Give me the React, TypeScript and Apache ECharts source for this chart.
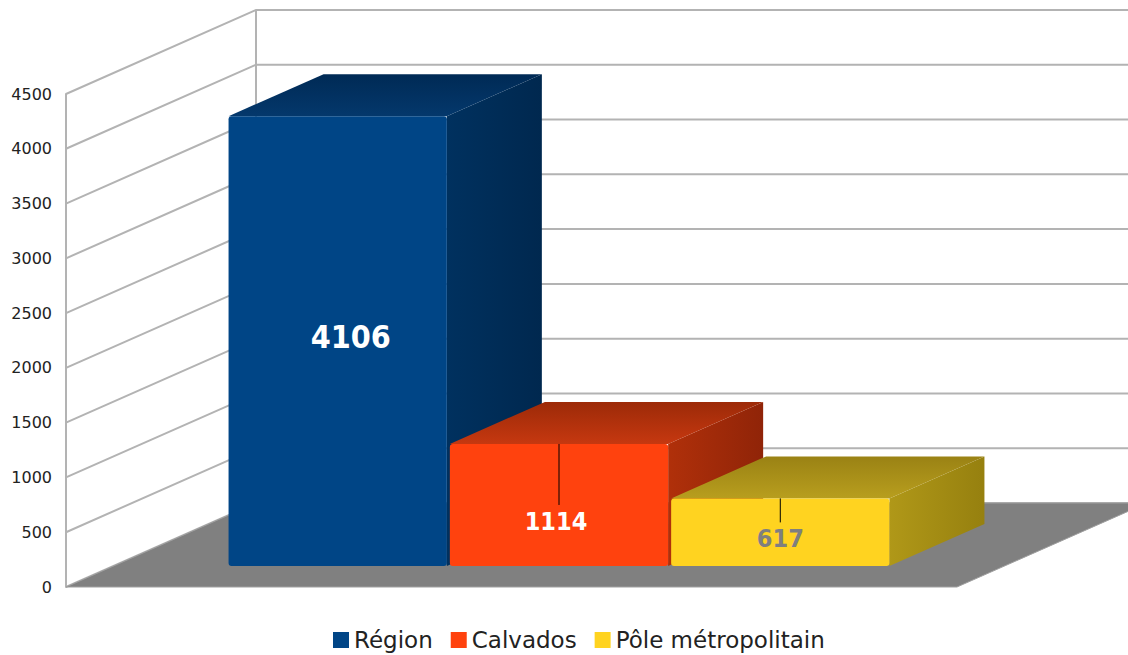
import React, { useEffect, useRef } from "react";
import * as echarts from "echarts";

// ---- data ----
const CATEGORIES = [""];
const SERIES_NAMES = ["Région", "Calvados", "Pôle métropolitain"];
const SERIES_VALUES = [4106, 1114, 617];
const Y_TICKS = [0, 500, 1000, 1500, 2000, 2500, 3000, 3500, 4000, 4500];

// ---- styles ----
const FRONT = ["#004586", "#ff420e", "#ffd320"];
const TOP = [
  ["#002a55", "#04386c"],
  ["#9c2a08", "#c63810"],
  ["#9a8214", "#b89e1e"],
];
const SIDE = [
  ["#00315f", "#00284f"],
  ["#b0300a", "#902408"],
  ["#b09818", "#96800f"],
];
const LABELS = [
  { dx: 13, dy: null as number | null, line: 0, size: 32, color: "#ffffff" },
  { dx: -3, dy: 78, line: 61, size: 25, color: "#ffffff" },
  { dx: 0, dy: 40, line: 24, size: 25, color: "#7f7f7f" },
];
const FDX = 190;
const FDY = -84;
const GRID_COLOR = "#b3b3b3";

export default function App() {
  const ref = useRef<HTMLDivElement>(null);
  useEffect(() => {
    document.body.style.margin = "0";
    const chart = echarts.init(ref.current!, undefined, { renderer: "svg" });

    const frameSeries = {
      type: "custom",
      name: "frame",
      clip: false,
      z: 1,
      silent: true,
      data: Y_TICKS.map((v) => [0, v]),
      renderItem: (params: any, api: any) => {
        const v = api.value(1);
        const [cx, y] = api.coord([0, v]);
        const bw = api.size([1, 0])[0];
        const left = cx - bw / 2;
        const children: any[] = [
          {
            type: "polyline",
            shape: {
              points: [
                [left, y],
                [left + FDX, y + FDY],
                [1300, y + FDY],
              ],
            },
            style: { stroke: GRID_COLOR, lineWidth: 2, fill: "none" },
          },
        ];
        if (params.dataIndex === 0) {
          const yTop = api.coord([0, Y_TICKS[Y_TICKS.length - 1]])[1];
          children.push({
            type: "line",
            shape: { x1: left + FDX, y1: y + FDY, x2: left + FDX, y2: yTop + FDY },
            style: { stroke: GRID_COLOR, lineWidth: 2 },
          });
        }
        return { type: "group", children };
      },
    };

    const floorSeries = {
      type: "custom",
      name: "floor",
      clip: false,
      z: 2,
      silent: true,
      data: [[0, 0]],
      renderItem: (params: any, api: any) => {
        const [cx, y] = api.coord([0, 0]);
        const bw = api.size([1, 0])[0];
        const left = cx - bw / 2;
        return {
          type: "polygon",
          shape: {
            points: [
              [left, y],
              [left + bw, y],
              [left + bw + FDX, y + FDY],
              [left + FDX, y + FDY],
            ],
          },
          style: { fill: "#808080", stroke: "#a0a0a0", lineWidth: 1 },
        };
      },
    };

    const barSeries = SERIES_NAMES.map((name, i) => ({
      type: "custom",
      name,
      clip: false,
      z: 3 + i,
      itemStyle: { color: FRONT[i] },
      data: [[0, SERIES_VALUES[i]]],
      renderItem: (params: any, api: any) => {
        const v = api.value(1);
        const [cx, yBase] = api.coord([0, 0]);
        const yVal = api.coord([0, v])[1];
        const bw = api.size([1, 0])[0];
        const barW = bw * 0.245;
        const gap = 3;
        const bdx = FDX * 0.5;
        const bdy = FDY * 0.5;
        const x0 = cx + FDX * 0.25 + (i - 1) * (barW + gap) - barW / 2;
        const yb = yBase + FDY * 0.25;
        const yt = yVal + FDY * 0.25;
        const lab = LABELS[i];
        const lx = x0 + barW / 2 + lab.dx;
        const ly = lab.dy === null ? (yt + yb) / 2 - 4 : yt + lab.dy;
        const children: any[] = [
          {
            type: "polygon",
            shape: {
              points: [
                [x0 + barW, yt],
                [x0 + barW + bdx, yt + bdy],
                [x0 + barW + bdx, yb + bdy],
                [x0 + barW, yb],
              ],
            },
            style: {
              fill: new echarts.graphic.LinearGradient(0, 0, 1, 0, [
                { offset: 0, color: SIDE[i][0] },
                { offset: 1, color: SIDE[i][1] },
              ]),
            },
          },
          {
            type: "polygon",
            shape: {
              points: [
                [x0, yt],
                [x0 + barW, yt],
                [x0 + barW + bdx, yt + bdy],
                [x0 + bdx, yt + bdy],
              ],
            },
            style: {
              fill: new echarts.graphic.LinearGradient(0, 0, 0, 1, [
                { offset: 0, color: TOP[i][0] },
                { offset: 1, color: TOP[i][1] },
              ]),
            },
          },
          {
            type: "rect",
            shape: { x: x0, y: yt, width: barW, height: yb - yt, r: 3 },
            style: { fill: FRONT[i] },
          },
        ];
        if (lab.line > 0) {
          children.push({
            type: "line",
            shape: { x1: x0 + barW / 2, y1: yt, x2: x0 + barW / 2, y2: yt + lab.line },
            style: { stroke: "#000000", lineWidth: 1 },
          });
        }
        children.push({
          type: "text",
          x: lx,
          y: ly,
          style: {
            text: String(v),
            fill: lab.color,
            font: `bold ${lab.size}px "DejaVu Sans Condensed", "DejaVu Sans", sans-serif`,
            align: "center",
            verticalAlign: "middle",
          },
        });
        return { type: "group", children };
      },
    }));

    chart.setOption({
      animation: false,
      backgroundColor: "#ffffff",
      grid: { left: 66, right: 171, top: 94, bottom: 68 },
      legend: {
        data: SERIES_NAMES,
        left: 333,
        top: 628,
        icon: "rect",
        itemWidth: 16,
        itemHeight: 16,
        itemGap: 18,
        padding: 0,
        textStyle: { fontSize: 23, fontFamily: "DejaVu Sans", color: "#222222", lineHeight: 24 },
        selectedMode: false,
      },
      xAxis: {
        type: "category",
        data: CATEGORIES,
        show: false,
      },
      yAxis: {
        type: "value",
        min: 0,
        max: 4500,
        interval: 500,
        axisLine: { show: true, lineStyle: { color: GRID_COLOR, width: 2 } },
        axisTick: { show: false },
        splitLine: { show: false },
        axisLabel: {
          fontSize: 16,
          fontFamily: "DejaVu Sans",
          color: "#222222",
          margin: 14,
          formatter: (v: number) => String(v),
        },
      },
      series: [frameSeries, floorSeries, ...barSeries],
    } as any);
    return () => chart.dispose();
  }, []);
  return (
    <div
      ref={ref}
      style={{ position: "absolute", left: 0, top: 0, width: 1128, height: 655 }}
    />
  );
}
